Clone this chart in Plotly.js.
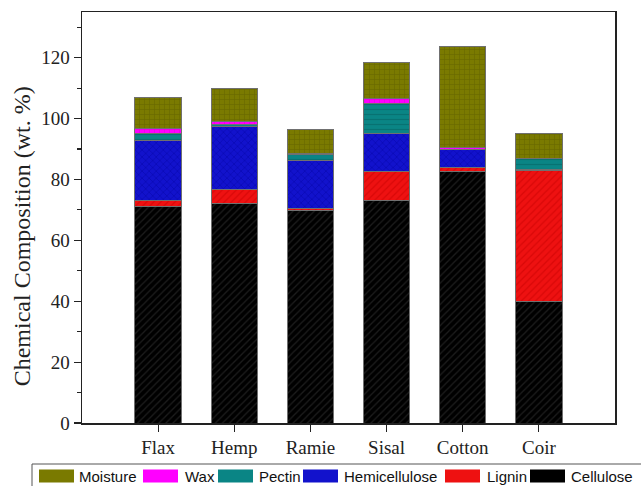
<!DOCTYPE html>
<html>
<head>
<meta charset="utf-8">
<script src="https://cdn.plot.ly/plotly-3.0.1.min.js"></script>
<style>html,body{margin:0;padding:0;background:#fff;}#chart{width:641px;height:486px;}</style>
</head>
<body>
<div id="chart"></div>
<script>
const categories = ['Flax', 'Hemp', 'Ramie', 'Sisal', 'Cotton', 'Coir'];
const cellulose = [71, 72, 69.8, 73, 82.7, 40];
const lignin = [2.2, 4.7, 0.8, 9.5, 1.3, 43];
const hemicellulose = [19.6, 20.6, 15.6, 12.5, 5.8, 0.2];
const pectin = [2.3, 0.9, 1.9, 10, 0, 3.8];
const wax = [1.7, 0.8, 0.3, 1.5, 0.6, 0];
const moisture = [10, 10.8, 8.1, 11.8, 33.3, 8];
const yTitle = 'Chemical Composition (wt. %)';
const legendOrder = ['Moisture', 'Wax', 'Pectin', 'Hemicellulose', 'Lignin', 'Cellulose'];

const series = [
  {name: 'Cellulose', y: cellulose, bg: '#000000', fg: '#3a3a3a', shape: '/'},
  {name: 'Lignin', y: lignin, bg: '#ee1111', fg: '#c40000', shape: '/'},
  {name: 'Hemicellulose', y: hemicellulose, bg: '#1212cc', fg: '#00009a', shape: 'x'},
  {name: 'Pectin', y: pectin, bg: '#0a8585', fg: '#056060', shape: '-'},
  {name: 'Wax', y: wax, bg: '#ff00ff', fg: '#cc00cc', shape: '+'},
  {name: 'Moisture', y: moisture, bg: '#7a7a00', fg: '#5a5a00', shape: '+'}
];

const traces = series.map(s => ({
  type: 'bar',
  name: s.name,
  x: categories,
  y: s.y,
  marker: {
    color: s.bg,
    line: {color: '#707070', width: 1},
    pattern: {shape: s.shape, bgcolor: s.bg, fgcolor: s.fg, size: 5, solidity: 0.25, fillmode: 'overlay'}
  },
  hoverinfo: 'name+y'
}));

// plot area in pixels (for the hand-drawn legend box below the axes)
const M = {l: 82, r: 26, t: 12, b: 63};
const W = 641, H = 486;
const pw = W - M.l - M.r, ph = H - M.t - M.b;
const px = v => (v - M.l) / pw;
const py = v => (H - M.b - v) / ph;

// legend layout (pixel positions of swatch start and text start)
const swatchX = [39, 143, 218, 303, 445, 530];
const textX = [77, 183, 257, 342, 485, 569];
const legY = 476;

const shapes = [{
  type: 'rect', xref: 'paper', yref: 'paper',
  x0: px(32), x1: px(660), y0: py(464), y1: py(500),
  line: {color: '#555', width: 1}, fillcolor: 'rgba(0,0,0,0)'
}];
const annotations = [{
  text: yTitle, xref: 'paper', yref: 'paper', x: -0.112, y: 0.455,
  xanchor: 'center', yanchor: 'middle', textangle: -90, showarrow: false,
  font: {family: 'Liberation Serif, Times New Roman, serif', size: 24, color: '#222'}
}];
legendOrder.forEach((name, i) => {
  const s = series.find(d => d.name === name);
  shapes.push({
    type: 'rect', xref: 'paper', yref: 'paper',
    x0: px(swatchX[i]), x1: px(swatchX[i] + 35), y0: py(legY + 6.5), y1: py(legY - 6.5),
    line: {width: 0}, fillcolor: s.bg
  });
  annotations.push({
    text: name, xref: 'paper', yref: 'paper', x: px(textX[i]), y: py(legY),
    xanchor: 'left', yanchor: 'middle', showarrow: false,
    font: {family: 'Liberation Sans, Arial, sans-serif', size: 15, color: '#111'}
  });
});

const layout = {
  width: W, height: H,
  margin: M,
  barmode: 'stack',
  bargap: 0.39,
  paper_bgcolor: '#fff',
  plot_bgcolor: '#fff',
  showlegend: false,
  xaxis: {
    type: 'category',
    range: [-1, 6],
    showline: true, linecolor: '#222', linewidth: 1.5, mirror: true,
    ticks: 'outside', ticklen: 7, tickcolor: '#222', tickwidth: 1.2,
    showgrid: false, zeroline: false,
    tickfont: {family: 'Liberation Serif, Times New Roman, serif', size: 19, color: '#222'}
  },
  yaxis: {
    range: [0, 135],
    tickvals: [0, 20, 40, 60, 80, 100, 120],
    showline: true, linecolor: '#222', linewidth: 1.5, mirror: true,
    ticks: 'outside', ticklen: 7, tickcolor: '#222', tickwidth: 1.2,
    minor: {dtick: 10, tick0: 0, ticks: 'outside', ticklen: 4, tickcolor: '#222', tickwidth: 1.2},
    showgrid: false, zeroline: false,
    tickfont: {family: 'Liberation Serif, Times New Roman, serif', size: 19, color: '#222'}
  },
  shapes: shapes,
  annotations: annotations
};

Plotly.newPlot('chart', traces, layout, {displayModeBar: false, staticPlot: true});
</script>
</body>
</html>
